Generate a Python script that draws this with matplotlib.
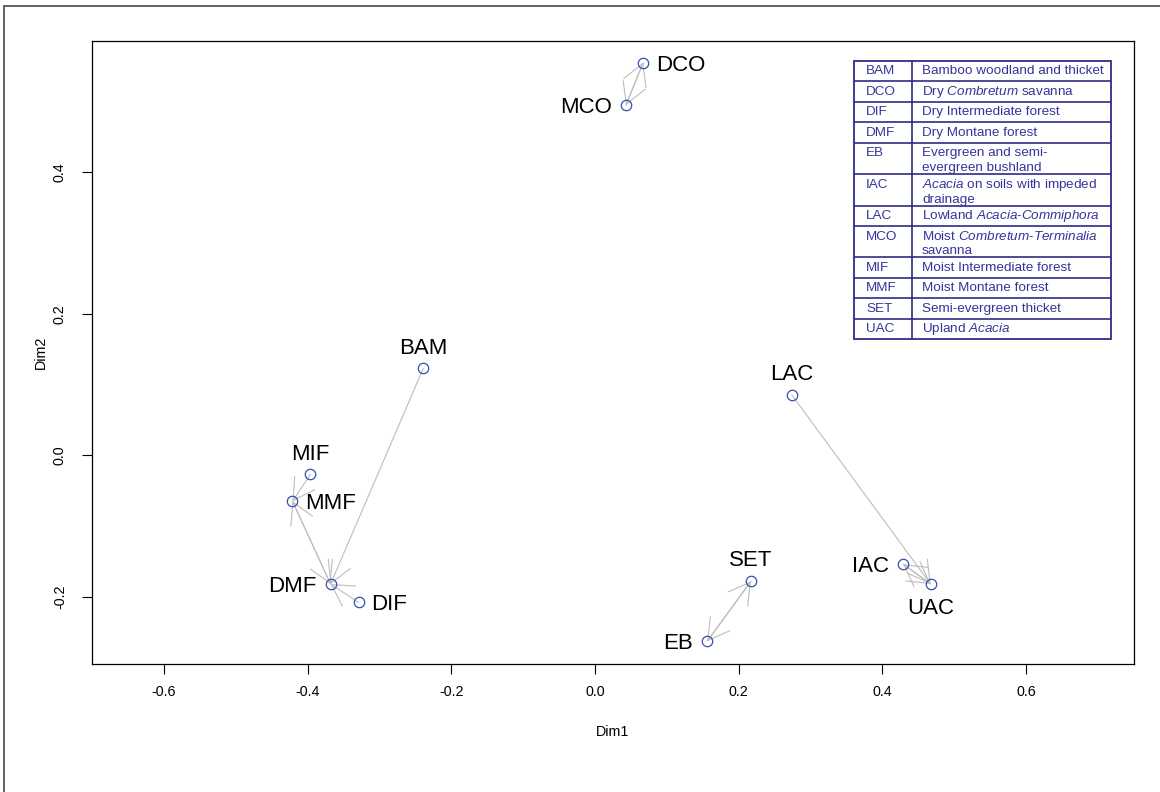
import matplotlib
matplotlib.use("Agg")
import matplotlib.pyplot as plt
from matplotlib.patches import Rectangle

plt.rcParams["font.family"] = ["Liberation Sans", "DejaVu Sans"]
plt.rcParams["mathtext.fontset"] = "custom"
plt.rcParams["mathtext.rm"] = "Liberation Sans"
plt.rcParams["mathtext.it"] = "Liberation Sans:italic"

# ordination scores
codes = ["BAM", "DCO", "DIF", "DMF", "EB", "IAC", "LAC", "MCO", "MIF", "MMF", "SET", "UAC"]
dim1 = [-0.239, 0.067, -0.329, -0.368, 0.156, 0.429, 0.274, 0.043, -0.396, -0.421, 0.217, 0.467]
dim2 = [0.123, 0.555, -0.208, -0.182, -0.263, -0.154, 0.085, 0.495, -0.027, -0.065, -0.178, -0.182]
label_side = ["top", "right", "right", "left", "left", "left", "top", "left", "top", "right", "top", "bottom"]

# nearest-neighbour links (from -> to)
links = [("BAM", "DMF"), ("DCO", "MCO"), ("MCO", "DCO"), ("DIF", "DMF"), ("DMF", "MMF"),
         ("MMF", "DMF"), ("MIF", "MMF"), ("EB", "SET"), ("SET", "EB"), ("IAC", "UAC"),
         ("UAC", "IAC"), ("LAC", "UAC")]

descriptions = [
    "Bamboo woodland and thicket",
    r"Dry $\mathit{Combretum}$ savanna",
    "Dry Intermediate forest",
    "Dry Montane forest",
    "Evergreen and semi-\nevergreen bushland",
    "$\\mathit{Acacia}$ on soils with impeded\ndrainage",
    r"Lowland $\mathit{Acacia}$-$\mathit{Commiphora}$",
    "Moist $\\mathit{Combretum}$-$\\mathit{Terminalia}$\nsavanna",
    "Moist Intermediate forest",
    "Moist Montane forest",
    "Semi-evergreen thicket",
    r"Upland $\mathit{Acacia}$",
]

W, H = 1160, 792
fig = plt.figure(figsize=(W / 100, H / 100), dpi=100)
fig.add_artist(Rectangle((4 / W, -0.1), 1.2, 1.1 - 6 / H, transform=fig.transFigure,
                         fill=False, edgecolor="#555555", linewidth=1.3))

ax = fig.add_axes([92 / W, 1 - 664 / H, (1134 - 92) / W, (664 - 41) / H])
ax.set_xlim(-0.70, 0.75)
ax.set_ylim(-0.295, 0.5855)

pos = {c: (x, y) for c, x, y in zip(codes, dim1, dim2)}
for a, b in links:
    ax.annotate("", xy=pos[b], xytext=pos[a],
                arrowprops=dict(arrowstyle="->,head_length=1.5,head_width=0.866",
                                mutation_scale=10, color="#bdbdbd", lw=0.8,
                                shrinkA=0, shrinkB=0))

ax.plot(dim1, dim2, "o", ms=7.5, mfc="none", mec="#3650b0", mew=0.9, zorder=3)

offsets = {"top": ((0, 7), "center", "bottom"), "bottom": ((0, -10), "center", "top"),
           "left": ((-10, 0), "right", "center_baseline"),
           "right": ((9, 0), "left", "center_baseline")}
for c, x, y, side in zip(codes, dim1, dim2, label_side):
    off, ha, va = offsets[side]
    ax.annotate(c, (x, y), xytext=off, textcoords="offset points", ha=ha, va=va,
                fontsize=16)

ax.set_xticks([-0.6, -0.4, -0.2, 0.0, 0.2, 0.4, 0.6])
ax.set_yticks([-0.2, 0.0, 0.2, 0.4])
ax.xaxis.set_major_formatter(plt.FormatStrFormatter("%.1f"))
ax.yaxis.set_major_formatter(plt.FormatStrFormatter("%.1f"))
ax.tick_params(direction="out", length=7, width=0.8, labelsize=10.3)
ax.tick_params(axis="x", pad=8)
ax.tick_params(axis="y", pad=11)
plt.setp(ax.get_yticklabels(), rotation=90, va="center")
ax.set_xlabel("Dim1", fontsize=10.3, labelpad=19)
ax.set_ylabel("Dim2", fontsize=10.3, labelpad=4)
for s in ax.spines.values():
    s.set_linewidth(0.9)

# legend table, laid out in pixel units
tx0, tx1, tdiv, ty0 = 854, 1111, 912, 61
single, double, line_gap = 20.4, 31.5, 15
tab_fs = 9.7
row_h = [double if "\n" in d else single for d in descriptions]
total = sum(row_h)
tab = fig.add_axes([tx0 / W, 1 - (ty0 + total) / H, (tx1 - tx0) / W, total / H], zorder=5)
tab.set_xlim(tx0, tx1)
tab.set_ylim(ty0 + total, ty0)
tab.axis("off")
line_col, text_col = "#2e2e86", "#34349a"
tab.add_patch(Rectangle((tx0, ty0), tx1 - tx0, total, fill=False, edgecolor=line_col,
                        linewidth=1.3, clip_on=False))
tab.plot([tdiv, tdiv], [ty0, ty0 + total], color=line_col, lw=1.2)
y = ty0
for code, desc, h in zip(codes, descriptions, row_h):
    tab.text(866, y + 13.5, code, fontsize=tab_fs, color=text_col, va="baseline", ha="left")
    for i, part in enumerate(desc.split("\n")):
        tab.text(922, y + 13.5 + i * line_gap, part, fontsize=tab_fs, color=text_col,
                 va="baseline", ha="left")
    y += h
    if y < ty0 + total - 1:
        tab.plot([tx0, tx1], [y, y], color=line_col, lw=1.2)

fig.savefig("out.png", dpi=100)
